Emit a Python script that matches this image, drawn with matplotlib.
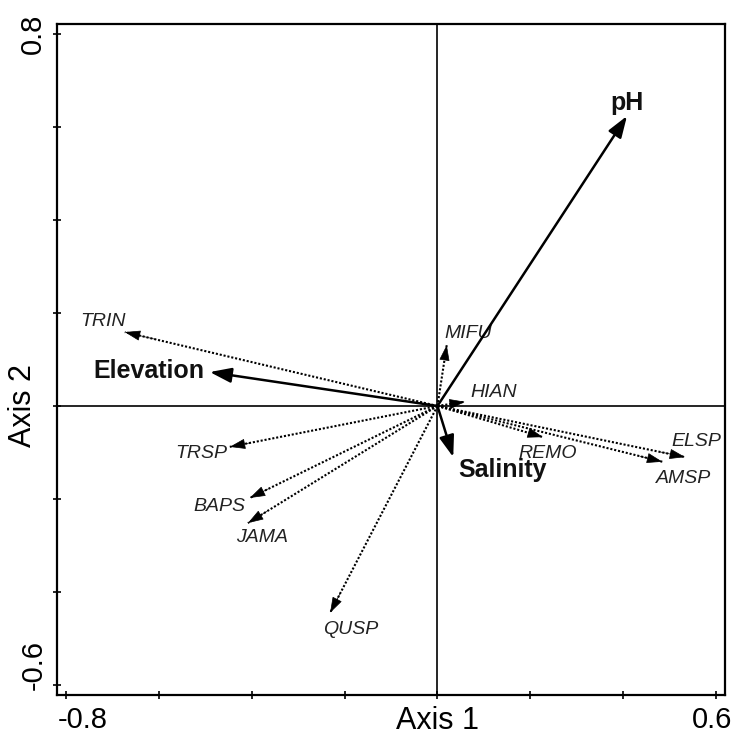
import numpy as np
import matplotlib
matplotlib.use("Agg")
import matplotlib.pyplot as plt
import matplotlib.transforms as mtransforms

plt.rcParams['font.family'] = ['Liberation Sans', 'DejaVu Sans']

# species scores (arrow tips) and where their names sit
species = ['TRIN', 'MIFU', 'HIAN', 'REMO', 'ELSP', 'AMSP', 'TRSP', 'BAPS', 'JAMA', 'QUSP']
sp_x = [-0.673, 0.020, 0.059, 0.227, 0.533, 0.484, -0.447, -0.404, -0.408, -0.231]
sp_y = [0.159, 0.131, 0.009, -0.067, -0.110, -0.120, -0.088, -0.198, -0.252, -0.445]
sp_lab_x = [-0.719, 0.066, 0.122, 0.238, 0.557, 0.529, -0.509, -0.470, -0.378, -0.186]
sp_lab_y = [0.181, 0.157, 0.030, -0.103, -0.077, -0.157, -0.103, -0.217, -0.284, -0.482]

# environmental variables
env = ['pH', 'Elevation', 'Salinity']
env_x = [0.408, -0.490, 0.034]
env_y = [0.624, 0.073, -0.110]
env_lab_x = [0.408, -0.621, 0.141]
env_lab_y = [0.652, 0.075, -0.138]

xticks = [-0.8, -0.6, -0.4, -0.2, 0.0, 0.2, 0.4, 0.6]
xticklabels = ['-0.8', '', '', '', '', '', '', '0.6']
yticks = [-0.6, -0.4, -0.2, 0.0, 0.2, 0.4, 0.6, 0.8]
yticklabels = ['-0.6', '', '', '', '', '', '', '0.8']
xlim = (-0.819, 0.619)
ylim = (-0.622, 0.822)

fig = plt.figure(figsize=(7.38, 7.36), dpi=100)
ax = fig.add_axes([0.0772, 0.0557, 0.9052, 0.9117])
ax.set_xlim(xlim)
ax.set_ylim(ylim)

for sp in ax.spines.values():
    sp.set_linewidth(1.6)

# zero lines
ax.axhline(0, color='black', linewidth=1.2, zorder=1)
ax.axvline(0, color='black', linewidth=1.2, zorder=1)

# species arrows: dotted shaft + filled head
for i in range(len(species)):
    ax.plot([0, sp_x[i]], [0, sp_y[i]], color='black', lw=1.5,
            linestyle=(0, (1, 0.9)), zorder=3)
    ax.annotate('', xy=(sp_x[i], sp_y[i]), xytext=(sp_x[i] * 0.9, sp_y[i] * 0.9),
                arrowprops=dict(arrowstyle='-|>,head_length=1.0,head_width=0.33',
                                mutation_scale=10, color='black', lw=0.5,
                                shrinkA=0, shrinkB=0),
                zorder=3)
    ax.text(sp_lab_x[i], sp_lab_y[i], species[i], fontsize=14, style='italic',
            ha='center', va='center', color='#222222')

# environmental arrows (solid)
for i in range(len(env)):
    ax.annotate('', xy=(env_x[i], env_y[i]), xytext=(0, 0),
                arrowprops=dict(arrowstyle='-|>,head_length=1.3,head_width=0.45',
                                mutation_scale=10, color='black', lw=1.8,
                                shrinkA=0, shrinkB=0),
                zorder=4)
    ax.text(env_lab_x[i], env_lab_y[i], env[i], fontsize=18, fontweight='bold',
            ha='center', va='center', color='#111111')

# ticks only at the ends get labels
ax.set_xticks(xticks)
ax.set_xticklabels(xticklabels)
ax.set_yticks(yticks)
ax.set_yticklabels(yticklabels, rotation=90, va='center')
ax.tick_params(direction='inout', length=6, width=1.2, labelsize=21, pad=5)
ax.tick_params(axis='y', pad=4)

# nudge end labels like the original
tl = ax.get_xticklabels()
tl[0].set_transform(tl[0].get_transform() + mtransforms.ScaledTranslation(17 / 100, 0, fig.dpi_scale_trans))
tl[-1].set_transform(tl[-1].get_transform() + mtransforms.ScaledTranslation(-4 / 100, 0, fig.dpi_scale_trans))
yl = ax.get_yticklabels()
yl[0].set_transform(yl[0].get_transform() + mtransforms.ScaledTranslation(0, 20 / 100, fig.dpi_scale_trans))

ax.set_xlabel('Axis 1', fontsize=22)
ax.set_ylabel('Axis 2', fontsize=22)
x0frac = (0 - xlim[0]) / (xlim[1] - xlim[0])
y0frac = (0 - ylim[0]) / (ylim[1] - ylim[0])
ax.xaxis.set_label_coords(x0frac, -0.016)
ax.xaxis.label.set_va('top')
ax.yaxis.set_label_coords(-0.029, y0frac)

fig.savefig('out.png', dpi=100)
